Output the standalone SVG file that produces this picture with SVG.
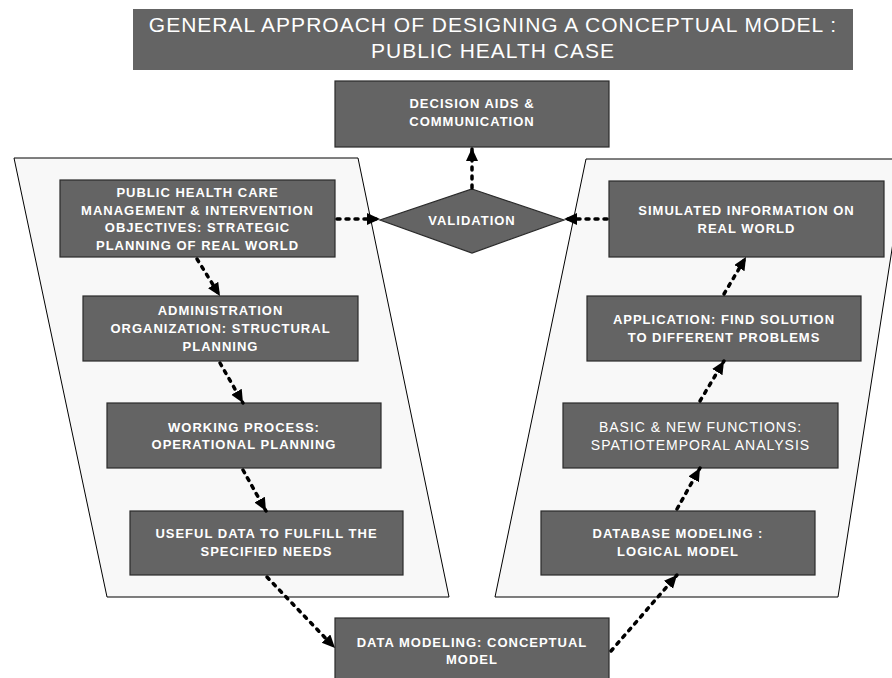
<svg xmlns="http://www.w3.org/2000/svg" width="892" height="678" viewBox="0 0 892 678">
<style>
.bg{fill:#f8f8f8;stroke:#000;stroke-width:1}
.box{fill:#646464;stroke:#2a2a2a;stroke-width:1.2}
.t{font-family:"Liberation Sans",Arial,sans-serif;font-size:13px;font-weight:bold;fill:#fff;text-anchor:middle;letter-spacing:1px}
.tr{font-family:"Liberation Sans",Arial,sans-serif;font-size:14px;fill:#fff;text-anchor:middle;letter-spacing:1px}
.title{font-family:"Liberation Sans",Arial,sans-serif;font-size:21px;fill:#fff;text-anchor:middle;letter-spacing:1px}
.c{fill:none;stroke:#000;stroke-width:3.5;stroke-dasharray:3 6;stroke-linecap:round;marker-end:url(#ah)}
</style>
<defs>
<marker id="ah" markerUnits="userSpaceOnUse" markerWidth="14" markerHeight="13" refX="13" refY="6" orient="auto">
<path d="M0,0 L13,6 L0,12 z" fill="#000"/>
</marker>
</defs>
<rect width="892" height="678" fill="#fff"/>
<g id="title">
<rect x="133" y="9" width="720" height="61" fill="#646464"/>
<text class="title" x="493" y="32">GENERAL APPROACH OF DESIGNING A CONCEPTUAL MODEL :</text>
<text class="title" x="493" y="58">PUBLIC HEALTH CASE</text>
</g>
<g id="left-panel"><polygon class="bg" points="14,158 358,158 449,597 107,597"/></g>
<g id="right-panel"><polygon class="bg" points="586,159 906,159 838,597 495,597"/></g>
<g id="decision">
<rect class="box" x="335" y="81" width="274" height="66"/>
<text class="t" x="472" y="108">DECISION AIDS &amp;</text>
<text class="t" x="472" y="126">COMMUNICATION</text>
</g>
<g id="validation">
<polygon class="box" points="472,189 564,220 472,253 380,220"/>
<text class="t" x="472" y="225">VALIDATION</text>
</g>
<g id="strategic">
<rect class="box" x="60" y="180" width="275" height="77"/>
<text class="t" x="197.5" y="197">PUBLIC HEALTH CARE</text>
<text class="t" x="197.5" y="214.5">MANAGEMENT &amp; INTERVENTION</text>
<text class="t" x="197.5" y="232">OBJECTIVES: STRATEGIC</text>
<text class="t" x="197.5" y="249.5">PLANNING OF REAL WORLD</text>
</g>
<g id="structural">
<rect class="box" x="83" y="296" width="275" height="65"/>
<text class="t" x="220.5" y="314.5">ADMINISTRATION</text>
<text class="t" x="220.5" y="332.5">ORGANIZATION: STRUCTURAL</text>
<text class="t" x="220.5" y="350.5">PLANNING</text>
</g>
<g id="operational">
<rect class="box" x="107" y="403" width="274" height="65"/>
<text class="t" x="244" y="431.5">WORKING PROCESS:</text>
<text class="t" x="244" y="449">OPERATIONAL PLANNING</text>
</g>
<g id="useful-data">
<rect class="box" x="130" y="511" width="273" height="64"/>
<text class="t" x="266.5" y="538">USEFUL DATA TO FULFILL THE</text>
<text class="t" x="266.5" y="556">SPECIFIED NEEDS</text>
</g>
<g id="conceptual">
<rect class="box" x="335" y="618" width="274" height="70"/>
<text class="t" x="472" y="646.5">DATA MODELING: CONCEPTUAL</text>
<text class="t" x="472" y="664">MODEL</text>
</g>
<g id="logical">
<rect class="box" x="541" y="511" width="274" height="64"/>
<text class="t" x="678" y="538">DATABASE MODELING :</text>
<text class="t" x="678" y="556">LOGICAL MODEL</text>
</g>
<g id="functions">
<rect class="box" x="563" y="403" width="275" height="65"/>
<text class="tr" x="700.5" y="432">BASIC &amp; NEW FUNCTIONS:</text>
<text class="tr" x="700.5" y="450">SPATIOTEMPORAL ANALYSIS</text>
</g>
<g id="application">
<rect class="box" x="587" y="296" width="274" height="65"/>
<text class="t" x="724" y="323.5">APPLICATION: FIND SOLUTION</text>
<text class="t" x="724" y="341.5">TO DIFFERENT PROBLEMS</text>
</g>
<g id="simulated">
<rect class="box" x="609" y="181" width="275" height="76"/>
<text class="t" x="746.5" y="214.5">SIMULATED INFORMATION ON</text>
<text class="t" x="746.5" y="232.5">REAL WORLD</text>
</g>
<g id="connectors">
<line class="c" x1="472" y1="188" x2="472" y2="148"/>
<line class="c" x1="337" y1="219" x2="380" y2="219"/>
<line class="c" x1="607" y1="219" x2="564" y2="219"/>
<line class="c" x1="197" y1="259" x2="220" y2="296"/>
<line class="c" x1="220" y1="363" x2="243" y2="403"/>
<line class="c" x1="243" y1="470" x2="266" y2="511"/>
<line class="c" x1="267" y1="577" x2="335" y2="648"/>
<line class="c" x1="611" y1="651" x2="677" y2="575"/>
<line class="c" x1="677" y1="509" x2="700" y2="468"/>
<line class="c" x1="700" y1="401" x2="724" y2="361"/>
<line class="c" x1="724" y1="294" x2="746" y2="257"/>
</g>
</svg>
